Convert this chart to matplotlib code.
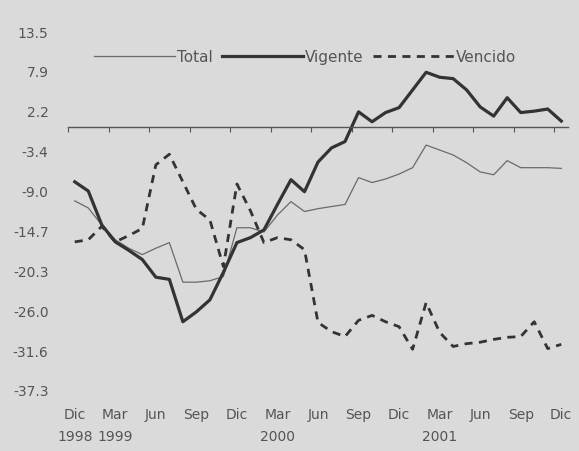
import numpy as np
import matplotlib
matplotlib.use("Agg")
import matplotlib.pyplot as plt
import matplotlib.transforms as mtransforms

# Datos mensuales, dic 1998 - dic 2001 (variación %)
total = [-10.4, -11.4, -13.8, -15.9, -17.1, -18.0, -17.1, -16.3, -21.9, -21.9,
         -21.7, -21.1, -14.2, -14.2, -14.8, -12.4, -10.5, -11.9, -11.5, -11.2,
         -10.9, -7.1, -7.8, -7.3, -6.6, -5.7, -2.5, -3.2, -3.9, -5.0,
         -6.3, -6.7, -4.7, -5.7, -5.7, -5.7, -5.8]
vigente = [-7.7, -9.0, -13.8, -16.2, -17.4, -18.7, -21.2, -21.5, -27.5, -26.1,
           -24.4, -20.5, -16.3, -15.6, -14.5, -10.9, -7.4, -9.1, -4.9, -2.9,
           -2.0, 2.2, 0.8, 2.1, 2.8, 5.3, 7.8, 7.1, 6.9, 5.3,
           2.9, 1.6, 4.2, 2.1, 2.3, 2.6, 0.9]
vencido = [-16.2, -15.9, -14.0, -16.2, -15.3, -14.3, -5.3, -3.8, -7.7, -11.6,
           -13.1, -19.7, -8.0, -11.8, -16.3, -15.6, -15.9, -17.3, -27.6, -28.9,
           -29.6, -27.3, -26.6, -27.5, -28.2, -31.4, -24.8, -29.0, -31.0, -30.6,
           -30.4, -30.0, -29.7, -29.6, -27.5, -31.3, -30.7]

meses = ["Dic", "Mar", "Jun", "Sep", "Dic", "Mar", "Jun", "Sep", "Dic",
         "Mar", "Jun", "Sep", "Dic"]
anios = {0: "1998", 1: "1999", 5: "2000", 9: "2001"}
ytick_labels = ["13.5", "7.9", "2.2", "-3.4", "-9.0", "-14.7", "-20.3",
                "-26.0", "-31.6", "-37.3"]

fondo = "#dadada"
gris_texto = "#555555"

fig = plt.figure(figsize=(5.79, 4.51), dpi=100, facecolor=fondo)
ax = fig.add_axes([68 / 579, 1 - 391 / 451, 500 / 579, 359 / 451])
ax.set_facecolor(fondo)

x = np.arange(len(total))
ax.plot(x, total, color="#6a6a6a", lw=0.9, label="Total")
ax.plot(x, vigente, color="#333333", lw=2.3, label="Vigente")
ax.plot(x, vencido, color="#333333", lw=2.0, dashes=(2.9, 2.3), label="Vencido")

ax.set_xlim(-0.5, len(total) - 0.5)
ax.set_ylim(-37.3, 13.5)

# Eje y: solo etiquetas
ax.set_yticks(np.linspace(13.5, -37.3, 10))
ax.set_yticklabels(ytick_labels)
ax.tick_params(axis="y", length=0, pad=14, labelsize=10, labelcolor=gris_texto)

# Eje x sobre el cero, marcas cada 3 meses
for s in ["top", "right", "left"]:
    ax.spines[s].set_visible(False)
ax.spines["bottom"].set_position(("data", 0))
ax.spines["bottom"].set_color("#555555")
ax.spines["bottom"].set_linewidth(1.0)
ax.set_xticks(np.arange(-0.5, len(total) - 1, 3))
ax.set_xticklabels([])
ax.tick_params(axis="x", direction="out", length=3.5, color="#555555")

trans = mtransforms.blended_transform_factory(ax.transData, ax.transAxes)
for k, m in enumerate(meses):
    ax.text(3 * k, -0.067, m, transform=trans, ha="center", va="center",
            fontsize=10, color=gris_texto)
    if k in anios:
        ax.text(3 * k, -0.128, anios[k], transform=trans, ha="center",
                va="center", fontsize=10, color=gris_texto)

leg = ax.legend(loc="center", bbox_to_anchor=(0.474, 0.93), ncol=3,
                frameon=False, handlelength=5.3, handletextpad=0.15,
                columnspacing=0.6, fontsize=11)
for t in leg.get_texts():
    t.set_color(gris_texto)

fig.savefig("out.png", dpi=100, facecolor=fondo)
